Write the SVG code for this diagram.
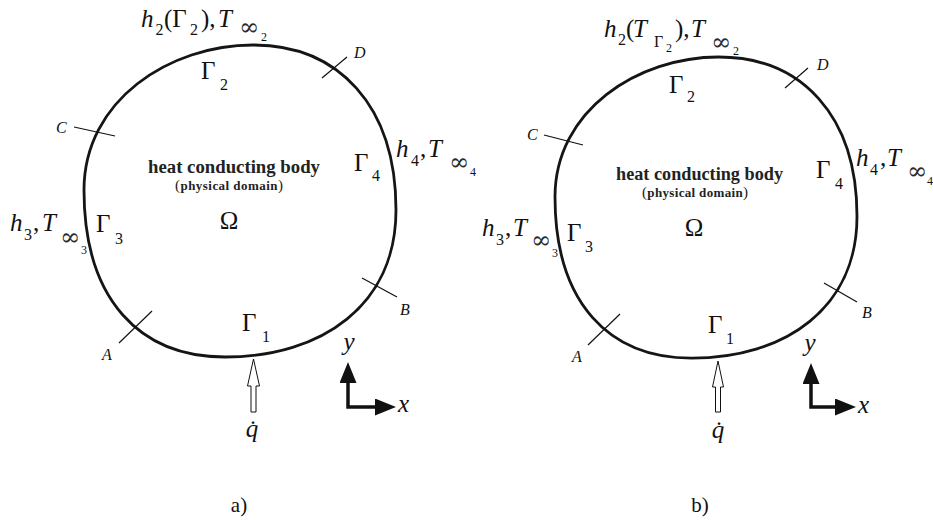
<svg xmlns="http://www.w3.org/2000/svg" width="933" height="520" viewBox="0 0 933 520">
<style>
text{font-family:"Liberation Serif","DejaVu Serif",serif;fill:#111}
.mi{font-style:italic;font-size:25px}
.mr{font-size:25px}
.s{font-size:16px}
.ss{font-size:12px}
.inf{font-family:"DejaVu Serif",serif;font-size:24px;fill:#2a2a2a}
.pt{font-style:italic;font-size:16px}
.bd{font-weight:bold;font-size:18px;fill:#222}
.bs{font-weight:bold;font-size:13px;fill:#222}
.par{font-size:15px;fill:#222}
.cap{font-size:21px}
.body{fill:none;stroke:#151515;stroke-width:2.8}
.tick{stroke:#111;stroke-width:1.2}
.qarr{fill:#fff;stroke:#111;stroke-width:1}
.axis{fill:none;stroke:#111;stroke-width:3.5;marker-start:url(#ah);marker-end:url(#ah)}
</style>
<defs>
<marker id="ah" markerUnits="userSpaceOnUse" markerWidth="22" markerHeight="18" refX="0" refY="8.5" orient="auto-start-reverse"><path d="M0,0 L21,8.5 L0,17 Z" fill="#111"/></marker>
</defs>

<!-- Panel a -->
<g id="a-body"><path class="body" d="M253,45 C338,45 396,105 396,210 C396,305 322,357 225,357 C140,357 84,300 84,190 C84,100 170,45 253,45 Z"/></g>
<g id="a-ticks">
<line class="tick" x1="74" y1="127" x2="115" y2="136"/>
<line class="tick" x1="322" y1="78" x2="347" y2="57"/>
<line class="tick" x1="119" y1="343" x2="152" y2="311"/>
<line class="tick" x1="362" y1="278" x2="397" y2="297"/>
</g>
<g id="a-points">
<text class="pt" x="56" y="133">C</text>
<text class="pt" x="354" y="58">D</text>
<text class="pt" x="102" y="360">A</text>
<text class="pt" x="400" y="315">B</text>
</g>
<g id="a-top">
<text><tspan class="mi" x="141" y="27">h</tspan><tspan class="s" x="155.5" y="35">2</tspan><tspan class="mr" x="164" y="27">(Γ</tspan><tspan class="s" x="190" y="35">2</tspan><tspan class="mr" x="201" y="27">),</tspan><tspan class="mi" x="218" y="27">T</tspan><tspan class="inf" x="239" y="35">∞</tspan><tspan class="ss" x="261" y="41">2</tspan></text>
</g>
<g id="a-gamma2"><text><tspan class="mr" x="201" y="79">Γ</tspan><tspan class="s" x="220" y="90">2</tspan></text></g>
<g id="a-domain">
<text class="bd" x="148" y="173" textLength="172" lengthAdjust="spacingAndGlyphs">heat conducting body</text>
<text x="175" y="190" textLength="108"><tspan class="par">(</tspan><tspan class="bs">physical domain</tspan><tspan class="par">)</tspan></text>
<text class="mr" x="229" y="229" text-anchor="middle">Ω</text>
</g>
<g id="a-gamma4"><text><tspan class="mr" x="354" y="171">Γ</tspan><tspan class="s" x="372" y="181">4</tspan></text></g>
<g id="a-h4"><text><tspan class="mi" x="396" y="157">h</tspan><tspan class="s" x="411" y="166">4</tspan><tspan class="mr" x="420" y="157">,</tspan><tspan class="mi" x="428" y="157">T</tspan><tspan class="inf" x="449" y="170">∞</tspan><tspan class="ss" x="470" y="176">4</tspan></text></g>
<g id="a-h3"><text><tspan class="mi" x="10" y="231">h</tspan><tspan class="s" x="24" y="240">3</tspan><tspan class="mr" x="33" y="231">,</tspan><tspan class="mi" x="42" y="231">T</tspan><tspan class="inf" x="60" y="245">∞</tspan><tspan class="ss" x="81" y="254">3</tspan></text></g>
<g id="a-gamma3"><text><tspan class="mr" x="96" y="232">Γ</tspan><tspan class="s" x="115" y="244">3</tspan></text></g>
<g id="a-gamma1"><text><tspan class="mr" x="242" y="331">Γ</tspan><tspan class="s" x="262" y="342">1</tspan></text></g>
<g id="a-flux">
<polygon class="qarr" points="253.5,359 259.5,386 256,386 256,412 251,412 251,386 247.5,386"/>
<text class="mi" x="252" y="437" text-anchor="middle">q̇</text>
</g>
<g id="a-axes">
<path class="axis" d="M348,383 V407 H375"/>
<text class="mi" x="349" y="350" text-anchor="middle">y</text>
<text class="mi" x="398" y="412">x</text>
</g>
<text class="cap" x="239" y="512" text-anchor="middle">a)</text>

<!-- Panel b -->
<g id="b-body"><path class="body" d="M718.6,57 C800.9,57 857,114.9 857,216.3 C857,307.9 785.4,358.1 691.5,358.1 C609.2,358.1 555,303.1 555,197 C555,110.1 638.3,57 718.6,57 Z"/></g>
<g id="b-ticks">
<line class="tick" x1="544" y1="135" x2="583" y2="145"/>
<line class="tick" x1="785" y1="88" x2="808" y2="68"/>
<line class="tick" x1="588" y1="345" x2="620" y2="314"/>
<line class="tick" x1="824" y1="283" x2="857" y2="302"/>
</g>
<g id="b-points">
<text class="pt" x="527" y="140">C</text>
<text class="pt" x="817" y="70">D</text>
<text class="pt" x="572" y="362">A</text>
<text class="pt" x="862" y="318">B</text>
</g>
<g id="b-top">
<text><tspan class="mi" x="604" y="37">h</tspan><tspan class="s" x="618" y="45">2</tspan><tspan class="mr" x="626" y="37">(</tspan><tspan class="mi" x="633" y="37">T</tspan><tspan class="s" x="654" y="47">Γ</tspan><tspan class="ss" x="666" y="52">2</tspan><tspan class="mr" x="675" y="37">),</tspan><tspan class="mi" x="691" y="37">T</tspan><tspan class="inf" x="711" y="50">∞</tspan><tspan class="ss" x="733" y="55">2</tspan></text>
</g>
<g id="b-gamma2"><text><tspan class="mr" x="669" y="93">Γ</tspan><tspan class="s" x="687" y="102">2</tspan></text></g>
<g id="b-domain">
<text class="bd" x="616" y="180" textLength="167" lengthAdjust="spacingAndGlyphs">heat conducting body</text>
<text x="642" y="197" textLength="106"><tspan class="par">(</tspan><tspan class="bs">physical domain</tspan><tspan class="par">)</tspan></text>
<text class="mr" x="694" y="236" text-anchor="middle">Ω</text>
</g>
<g id="b-gamma4"><text><tspan class="mr" x="816" y="178">Γ</tspan><tspan class="s" x="835" y="189">4</tspan></text></g>
<g id="b-h4"><text><tspan class="mi" x="856" y="166">h</tspan><tspan class="s" x="870" y="175">4</tspan><tspan class="mr" x="880" y="166">,</tspan><tspan class="mi" x="887" y="166">T</tspan><tspan class="inf" x="907" y="179">∞</tspan><tspan class="ss" x="927" y="185">4</tspan></text></g>
<g id="b-h3"><text><tspan class="mi" x="482" y="236">h</tspan><tspan class="s" x="496" y="245">3</tspan><tspan class="mr" x="505" y="236">,</tspan><tspan class="mi" x="513" y="236">T</tspan><tspan class="inf" x="531" y="248">∞</tspan><tspan class="ss" x="552" y="257">3</tspan></text></g>
<g id="b-gamma3"><text><tspan class="mr" x="567" y="241">Γ</tspan><tspan class="s" x="585" y="252">3</tspan></text></g>
<g id="b-gamma1"><text><tspan class="mr" x="708" y="333">Γ</tspan><tspan class="s" x="726" y="344">1</tspan></text></g>
<g id="b-flux">
<polygon class="qarr" points="718,361 723.5,387 720.5,387 720.5,412 715.5,412 715.5,387 712.5,387"/>
<text class="mi" x="718" y="438" text-anchor="middle">q̇</text>
</g>
<g id="b-axes">
<path class="axis" d="M811,384 V407 H835"/>
<text class="mi" x="810" y="351" text-anchor="middle">y</text>
<text class="mi" x="858" y="413">x</text>
</g>
<text class="cap" x="700" y="512" text-anchor="middle">b)</text>
</svg>
